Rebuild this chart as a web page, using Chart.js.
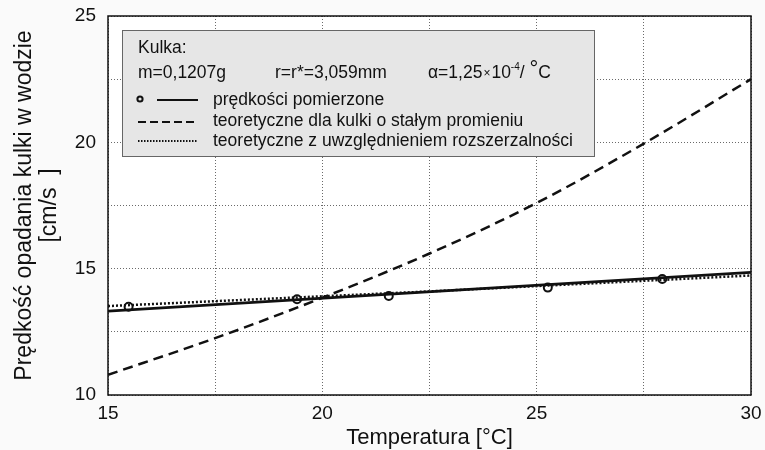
<!DOCTYPE html>
<html>
<head>
<meta charset="utf-8">
<script src="https://cdn.jsdelivr.net/npm/chart.js@4"></script>
<style>
  html, body { margin:0; padding:0; background:#fafafa; }
  #wrap { width:765px; height:450px; }
</style>
</head>
<body>
<div id="wrap"><canvas id="chart" width="765" height="450"></canvas></div>
<script>
// dane
const tempMeas = [15.48, 19.41, 21.55, 25.26, 27.93];
const vMeas = [13.49, 13.79, 13.92, 14.25, 14.59];

// prosta dopasowana do pomiarow
const tempFit = [15, 30];
const vFit = [13.32, 14.85];

// teoretyczne, staly promien
const tempConst = [15, 17.5, 20, 22.5, 25, 27.5, 30];
const vConst = [10.8, 12.25, 13.85, 15.6, 17.6, 19.95, 22.5];

// teoretyczne z rozszerzalnoscia
const tempExp = [15, 22.5, 30];
const vExp = [13.52, 14.1, 14.73];

const yTicks = [10, 15, 20, 25];
const xTicks = [15, 20, 25, 30];

const FONT = "'Liberation Sans', Arial, sans-serif";
const pts = (xs, ys) => xs.map((x, i) => ({ x, y: ys[i] }));

// tlo, ramka i opis (legenda w szarym polu)
const frame = {
  id: 'frame',
  beforeDraw(chart) {
    const { ctx, chartArea: a } = chart;
    ctx.save();
    ctx.fillStyle = '#fafafa';
    ctx.fillRect(0, 0, chart.width, chart.height);
    ctx.fillStyle = '#ffffff';
    ctx.fillRect(a.left, a.top, a.right - a.left, a.bottom - a.top);
    ctx.restore();
  },
  afterDraw(chart) {
    const { ctx, chartArea: a } = chart;
    ctx.save();
    // pole opisu
    const bx = 122, by = 30, bw = 472, bh = 126;
    ctx.fillStyle = '#e6e6e6';
    ctx.fillRect(bx, by, bw, bh);
    ctx.strokeStyle = '#666';
    ctx.lineWidth = 1;
    ctx.strokeRect(bx + 0.5, by + 0.5, bw, bh);

    ctx.fillStyle = '#111';
    ctx.textBaseline = 'middle';
    ctx.textAlign = 'left';
    ctx.font = '17.5px ' + FONT;
    ctx.fillText('Kulka:', 138, 48);
    ctx.fillText('m=0,1207g', 138, 73);
    ctx.fillText('r=r*=3,059mm', 275, 73);

    // alfa z indeksem gornym
    let x = 428;
    const put = (t, size, dy) => {
      ctx.font = size + 'px ' + FONT;
      ctx.fillText(t, x, 73 + dy);
      x += ctx.measureText(t).width;
    };
    put('\u03b1=1,25', 17.5, 0);
    x += 1; put('\u00d7', 12, 1); x += 1;
    put('10', 17.5, 0);
    put('-4', 10, -6);
    put('/ ', 17.5, 0);
    put('\u00b0', 22, -3);
    put('C', 17.5, 0);

    // symbole
    ctx.font = '17.5px ' + FONT;
    ctx.strokeStyle = '#111';
    ctx.lineWidth = 2;
    ctx.beginPath(); ctx.arc(140, 99, 2.6, 0, Math.PI * 2); ctx.stroke();
    ctx.lineWidth = 2.2;
    ctx.beginPath(); ctx.moveTo(157, 100); ctx.lineTo(198, 100); ctx.stroke();
    ctx.setLineDash([8, 4]);
    ctx.beginPath(); ctx.moveTo(138, 122); ctx.lineTo(198, 122); ctx.stroke();
    ctx.setLineDash([1.5, 1.5]);
    ctx.lineWidth = 2;
    ctx.beginPath(); ctx.moveTo(138, 141); ctx.lineTo(198, 141); ctx.stroke();
    ctx.setLineDash([]);

    ctx.fillText('prędkości pomierzone', 213, 100);
    ctx.fillText('teoretyczne dla kulki o stałym promieniu', 213, 121);
    ctx.fillText('teoretyczne z uwzględnieniem rozszerzalności', 213, 141);

    // ramka wykresu
    ctx.strokeStyle = '#111';
    ctx.lineWidth = 1.5;
    ctx.strokeRect(a.left, a.top, a.right - a.left, a.bottom - a.top);
    ctx.restore();
  }
};

new Chart(document.getElementById('chart'), {
  type: 'line',
  data: {
    datasets: [
      { label: 'teoretyczne dla kulki o stałym promieniu', data: pts(tempConst, vConst),
        borderColor: '#111', borderWidth: 2.5, borderDash: [10, 6], pointRadius: 0,
        tension: 0.4, cubicInterpolationMode: 'monotone', fill: false },
      { label: 'teoretyczne z uwzględnieniem rozszerzalności', data: pts(tempExp, vExp),
        borderColor: '#111', borderWidth: 2.5, borderDash: [2, 2], pointRadius: 0, fill: false },
      { label: 'prosta', data: pts(tempFit, vFit),
        borderColor: '#111', borderWidth: 2.8, pointRadius: 0, fill: false },
      { label: 'prędkości pomierzone', data: pts(tempMeas, vMeas), showLine: false,
        pointStyle: 'circle', pointRadius: 4, pointBorderWidth: 2,
        pointBorderColor: '#111', pointBackgroundColor: '#fff' }
    ]
  },
  options: {
    responsive: false,
    animation: false,
    layout: { padding: { top: 16, right: 14, left: 0, bottom: 0 } },
    plugins: { legend: { display: false }, tooltip: { enabled: false } },
    scales: {
      x: {
        type: 'linear', min: 15, max: 30,
        afterFit: s => { s.height = 55; s.paddingLeft = 0; s.paddingRight = 0; },
        afterBuildTicks: s => { s.ticks = [15, 17.5, 20, 22.5, 25, 27.5, 30].map(v => ({ value: v })); },
        ticks: {
          color: '#111', padding: 7, font: { family: FONT, size: 19 },
          callback: v => xTicks.includes(v) ? String(v) : ''
        },
        grid: { color: '#6a6a6a', lineWidth: 1, drawTicks: false },
        border: { display: false, dash: [1, 2] },
        title: { display: true, text: 'Temperatura [°C]', color: '#111',
          font: { family: FONT, size: 22, lineHeight: 1.1 }, padding: { top: 0, bottom: 0 } }
      },
      y: {
        min: 10, max: 25,
        afterFit: s => { s.width = 108; s.paddingTop = 0; s.paddingBottom = 0; },
        afterBuildTicks: s => { s.ticks = [10, 12.5, 15, 17.5, 20, 22.5, 25].map(v => ({ value: v })); },
        ticks: {
          color: '#111', padding: 12, font: { family: FONT, size: 19 },
          callback: v => yTicks.includes(v) ? String(v) : ''
        },
        grid: { color: '#6a6a6a', lineWidth: 1, drawTicks: false },
        border: { display: false, dash: [1, 2] },
        title: { display: true, text: ['Prędkość opadania kulki w wodzie', '[cm/s  ]'], color: '#111',
          font: { family: FONT, size: 23, lineHeight: 1.087 }, padding: { top: 12.5, bottom: 0 } }
      }
    }
  },
  plugins: [frame]
});
</script>
</body>
</html>
